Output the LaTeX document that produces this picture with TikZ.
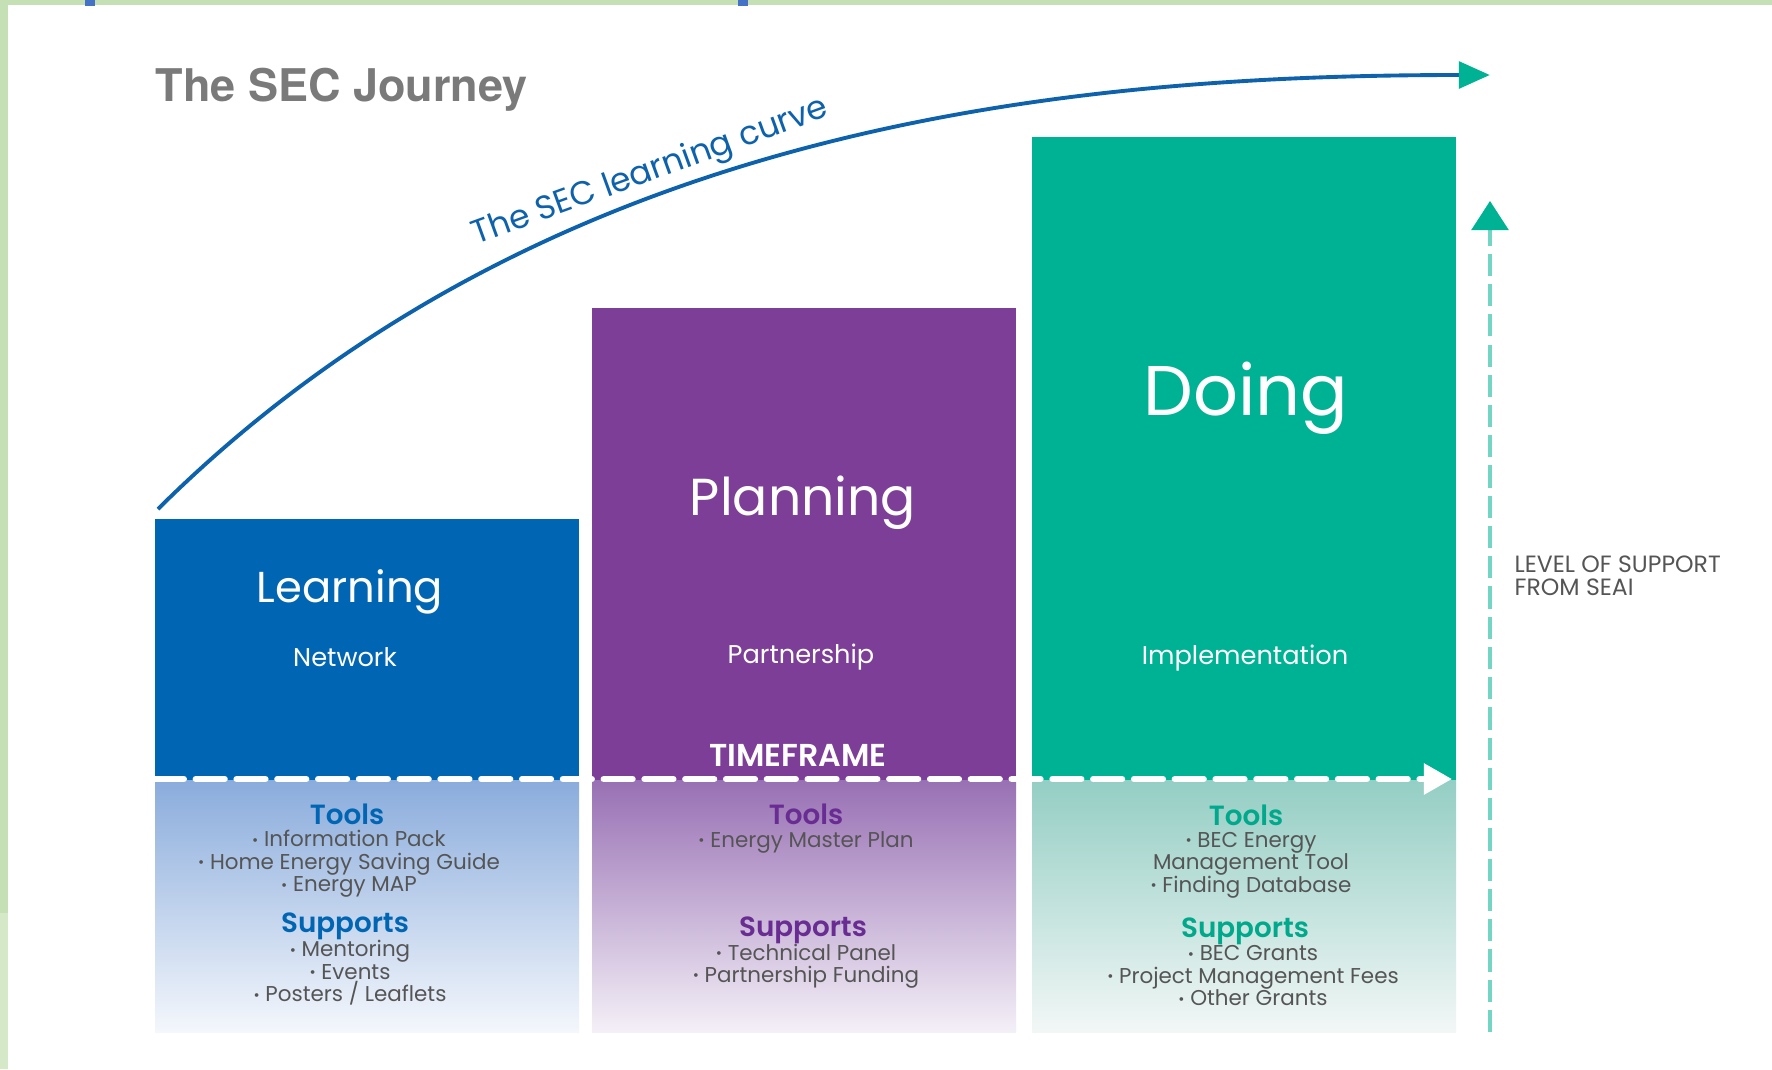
\documentclass[tikz,border=0pt]{standalone}
\usepackage{fontspec}
\setmainfont{Poppins}
\newfontfamily\titlefont{TeX Gyre Heros}
\IfFontExistsTF{Poppins SemiBold}{\newfontfamily\semifont{Poppins SemiBold}}{\newcommand{\semifont}{\bfseries}}
\usetikzlibrary{arrows.meta}
\usetikzlibrary{positioning}

\definecolor{seaiblue}{RGB}{0,102,179}
\definecolor{seaipurple}{RGB}{124,62,150}
\definecolor{seaiteal}{RGB}{0,178,148}
\definecolor{curveblue}{RGB}{14,98,172}
\definecolor{headpurple}{RGB}{104,44,146}
\definecolor{headteal}{RGB}{0,168,140}
\definecolor{lgrad}{RGB}{138,172,220}
\definecolor{pgrad}{RGB}{152,112,180}
\definecolor{dgrad}{RGB}{148,206,196}
\definecolor{lgradend}{RGB}{244,247,252}
\definecolor{pgradend}{RGB}{244,240,247}
\definecolor{dgradend}{RGB}{242,247,246}
\definecolor{framegreen}{RGB}{197,224,180}
\definecolor{framegreen2}{RGB}{213,232,199}
\definecolor{markblue}{RGB}{68,114,196}
\definecolor{bodygray}{RGB}{85,85,85}
\definecolor{titlegray}{RGB}{122,122,122}

\newcommand{\itm}{\raisebox{0.15ex}{\scalebox{0.7}{•}}~}

\tikzset{
	stagename/.style={text=white, inner sep=0pt},
	stagesub/.style={text=white, inner sep=0pt, font=\fontsize{7.3}{9}\selectfont},
	listhead/.style={inner sep=0pt, font=\semifont\fontsize{7.9}{9}\selectfont},
	listbody/.style={inner sep=0pt, align=center, text=bodygray, font=\fontsize{6.1}{6.4}\selectfont},
	timeline/.style={white, line width=1.8pt, line cap=round, dash pattern=on 8.2pt off 3.4pt},
	supportline/.style={seaiteal!55, line width=1pt, dash pattern=on 6.3pt off 2.3pt}
}

\begin{document}
\begin{tikzpicture}[x=0.01cm, y=-0.01cm]
		\useasboundingbox (0,0) rectangle (1772,1069);
		\fill[white] (0,0) rectangle (1772,1069);
		
		% screenshot frame
		\fill[framegreen] (0,0) rectangle (1772,5);
		\fill[framegreen] (0,0) rectangle (8,913);
		\fill[framegreen2] (0,913) rectangle (8,1069);
		\fill[markblue] (85,0) rectangle (95,6);
		\fill[markblue] (738,0) rectangle (748,6);
		
		% stage blocks
		\fill[seaiblue] (155,519) rectangle (579,780);
		\shade[top color=lgrad, bottom color=lgradend] (155,780) rectangle (579,1032);
		\fill[seaipurple] (592,308) rectangle (1016,780);
		\shade[top color=pgrad, bottom color=pgradend] (592,780) rectangle (1016,1032);
		\fill[seaiteal] (1032,137) rectangle (1456,780);
		\shade[top color=dgrad, bottom color=dgradend] (1032,780) rectangle (1456,1032);
		
		\node[anchor=west, inner sep=0pt, text=titlegray, font=\titlefont\bfseries\fontsize{12.8}{15}\selectfont] at (155,90) (title) {The SEC Journey};
		
		\node[stagename, font=\fontsize{12.3}{14}\selectfont] at (350,592) (learn) {Learning};
		\node[stagename, font=\fontsize{14.8}{17}\selectfont] at (803,503) (plan) {Planning};
		\node[stagename, font=\fontsize{20}{23}\selectfont] at (1246,398) (doing) {Doing};
		
		\node[stagesub] at (345,657) (network) {Network};
		\node[stagesub] at (801,657) (partner) {Partnership};
		\node[stagesub] at (1245,658) (implement) {Implementation};
		
		\node[inner sep=0pt, text=white, font=\semifont\fontsize{9}{10}\selectfont] at (798,755) (tf) {TIMEFRAME};
		
		% timeframe arrow
		\coordinate (tfstart) at (155,779);
		\coordinate (tfend) at (1452,779);
		\draw[timeline, -{Triangle[length=8pt, width=8.5pt]}] (tfstart) -- (tfend);
		
		% learning curve
		\coordinate (cstart) at (158,509);
		\coordinate (cend) at (1494,75);
		\draw[curveblue, line width=1.1pt, -{Triangle[length=8.8pt, width=7.6pt, sep=1.2pt, color=seaiteal]}] (cstart) .. controls (540,130) and (1050,75) .. (cend)
			node[pos=0.395, sloped, above=-2pt, text=curveblue, font=\fontsize{9.4}{10}\selectfont] (ctext) {The SEC learning curve};
		
		% level of support arrow
		\coordinate (sbottom) at (1490,1032);
		\coordinate (stop) at (1490,201);
		\draw[supportline, -{Triangle[length=8.3pt, width=10.5pt, color=seaiteal]}] (sbottom) -- (stop);
		\node[anchor=west, align=left, inner sep=0pt, text=bodygray, font=\fontsize{6.7}{6.6}\selectfont] at (1514,576) (level) {LEVEL OF SUPPORT\\FROM SEAI};
		
		% learning lists
		\node[listhead, text=seaiblue] at (347,814) (ltools) {Tools};
		\node[listbody] at (349,864) (ltoollist) {\itm Information Pack\\\itm Home Energy Saving Guide\\\itm Energy MAP};
		\node[listhead, text=seaiblue] at (345,926) (lsupp) {Supports};
		\node[listbody] at (350,973) (lsupplist) {\itm Mentoring\\\itm Events\\\itm Posters / Leaflets};
		
		% planning lists
		\node[listhead, text=headpurple] at (806,814) (ptools) {Tools};
		\node[listbody] at (806,842) (ptoollist) {\itm Energy Master Plan};
		\node[listhead, text=headpurple] at (803,930) (psupp) {Supports};
		\node[listbody] at (806,966) (psupplist) {\itm Technical Panel\\\itm Partnership Funding};
		
		% doing lists
		\node[listhead, text=headteal] at (1246,815) (dtools) {Tools};
		\node[listbody] at (1251,865) (dtoollist) {\itm BEC Energy\\Management Tool\\\itm Finding Database};
		\node[listhead, text=headteal] at (1245,931) (dsupp) {Supports};
		\node[listbody] at (1253,976) (dsupplist) {\itm BEC Grants\\\itm Project Management Fees\\\itm Other Grants};
	\end{tikzpicture}
\end{document}
